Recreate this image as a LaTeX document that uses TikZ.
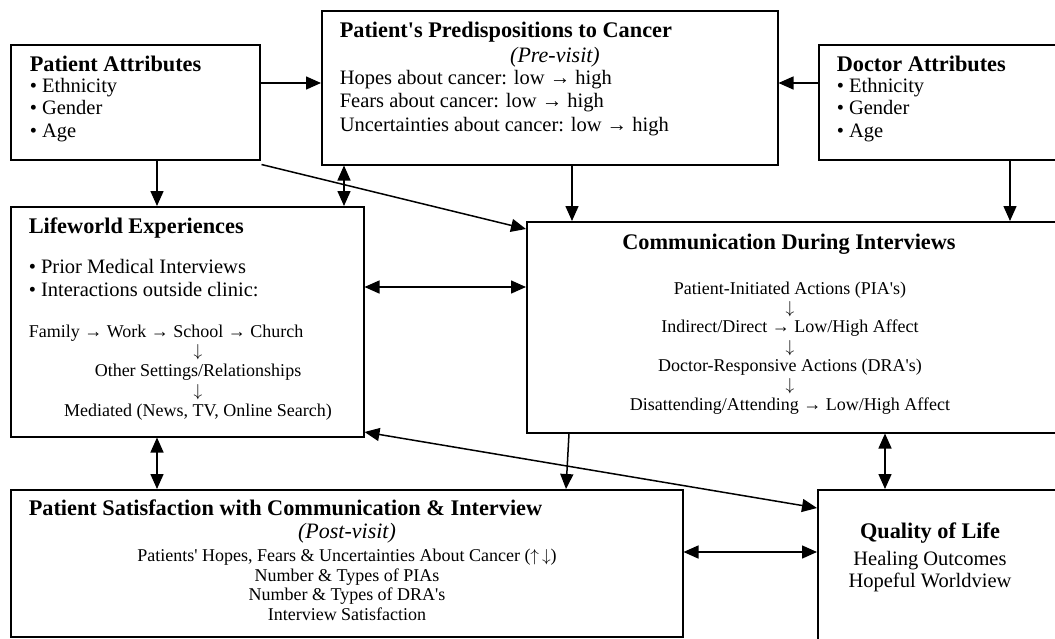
\documentclass[tikz,border=0pt]{standalone}
\usepackage{fontspec}
\setmainfont{Liberation Serif}
\usetikzlibrary{arrows.meta}

\begin{document}
\begin{tikzpicture}[
        x = 1pt, y = -1pt,
        line width = 1.5pt % line style
    ]
    \tikzstyle{box}=[
        draw = black,
        line width = 1.5pt,
        inner sep = 0pt,
        anchor = north west
    ]

    \tikzstyle{boxtitle}=[
        font = \fontsize{22.3}{24}\selectfont\bfseries,
        inner sep = 0pt,
        anchor = base west
    ]

    \tikzstyle{boxtext}=[
        font = \fontsize{20.5}{23}\selectfont,
        inner sep = 0pt,
        align = left,
        anchor = base west
    ]

    \tikzstyle{smalltext}=[
        font = \fontsize{18}{19.4}\selectfont,
        inner sep = 0pt,
        align = center,
        anchor = base
    ]

    \tikzstyle{visit}=[
        font = \fontsize{22}{24}\selectfont\itshape,
        inner sep = 0pt,
        anchor = base
    ]

    \tikzstyle{arr}=[-{Triangle[length=15pt, width=13pt]}, line width = 1.5pt]
    \tikzstyle{dbl}=[{Triangle[length=15pt, width=13pt]}-{Triangle[length=15pt, width=13pt]}, line width = 1.5pt]

    \useasboundingbox (0, 0) rectangle (1055, 638);

    % boxes
    \node[box, minimum width = 249pt, minimum height = 115pt] (pa)     at (10, 44)   {};
    \node[box, minimum width = 456pt, minimum height = 154pt] (pred)   at (321, 10)  {};
    \node[box, minimum width = 260pt, minimum height = 115pt] (doc)    at (818, 44)  {};
    \node[box, minimum width = 353pt, minimum height = 230pt] (lw)     at (10, 206)  {};
    \node[box, minimum width = 560pt, minimum height = 211pt] (comm)   at (526, 221) {};
    \node[box, minimum width = 672pt, minimum height = 147pt] (patsat) at (10, 489)  {};
    \node[box, minimum width = 260pt, minimum height = 170pt] (qol)    at (817, 489) {};

    % texts (multi-line nodes sit on their last baseline)
    \node[boxtitle] (pa-title) at (29, 71) {Patient Attributes};
    \node[boxtext, font = \fontsize{20.5}{22.5}\selectfont] (pa-list) at (29, 137)
        {• Ethnicity\\• Gender\\• Age};

    \node[boxtitle] (pred-title) at (339, 37) {Patient\textquotesingle s Predispositions to Cancer};
    \node[visit] (pred-visit) at (555, 62) {(Pre-visit)};
    \node[boxtext, font = \fontsize{20.5}{23.5}\selectfont] (pred-list) at (339, 131)
        {Hopes about cancer: low → high\\Fears about cancer: low → high\\Uncertainties about cancer: low → high};

    \node[boxtitle] (doc-title) at (836, 71) {Doctor Attributes};
    \node[boxtext, font = \fontsize{20.5}{22.5}\selectfont] (doc-list) at (836, 137)
        {• Ethnicity\\• Gender\\• Age};

    \node[boxtitle] (lw-title) at (28, 233) {Lifeworld Experiences};
    \node[boxtext] (lw-list) at (28, 296)
        {• Prior Medical Interviews\\• Interactions outside clinic:};
    \node[smalltext, anchor = base west] (lw-family) at (28, 337)
        {Family → Work → School → Church};
    \node[smalltext, font = \fontsize{18}{19.7}\selectfont] (lw-other) at (198, 416)
        {$\downarrow$\\Other Settings/Relationships\\$\downarrow$\\Mediated (News, TV, Online Search)};

    \node[boxtitle, anchor = base] (comm-title) at (789, 249) {Communication During Interviews};
    \node[smalltext, font = \fontsize{18}{19.3}\selectfont] (comm-list) at (790, 410)
        {Patient-Initiated Actions (PIA\textquotesingle s)\\$\downarrow$\\Indirect/Direct → Low/High Affect\\$\downarrow$\\%
         Doctor-Responsive Actions (DRA\textquotesingle s)\\$\downarrow$\\Disattending/Attending → Low/High Affect};

    \node[boxtitle] (patsat-title) at (28, 515) {Patient Satisfaction with Communication \& Interview};
    \node[visit] (patsat-visit) at (347, 538) {(Post-visit)};
    \node[smalltext, font = \fontsize{18}{19.5}\selectfont] (patsat-list) at (347, 620)
        {Patients\textquotesingle\ Hopes, Fears \& Uncertainties About Cancer ($\uparrow\,\downarrow$)\\Number \& Types of PIAs\\%
         Number \& Types of DRA\textquotesingle s\\Interview Satisfaction};

    \node[boxtitle, anchor = base] (qol-title) at (930, 538) {Quality of Life};
    \node[boxtext, align = center, anchor = base, font = \fontsize{20.5}{22}\selectfont] (qol-list) at (930, 587)
        {Healing Outcomes\\Hopeful Worldview};

    % connectors
    \path[arr] (pa.east |- 0,83) edge (pred.west |- 0,83);
    \path[arr] (doc.west |- 0,83) edge (pred.east |- 0,83);
    \path[arr] (pa.south -| 157,0) edge (lw.north -| 157,0);
    \path[dbl] (pred.south -| 344,0) edge (lw.north -| 344,0);
    \path[arr] ([shift={(1pt,-4pt)}]pa.south east) edge (comm.west |- 0,229);
    \path[arr] (pred.south -| 572,0) edge (comm.north -| 572,0);
    \path[arr] (doc.south -| 1010,0) edge (comm.north -| 1010,0);
    \path[dbl] (lw.east |- 0,287) edge (comm.west |- 0,287);
    \path[dbl] (lw.south -| 157,0) edge (patsat.north -| 157,0);
    \path[arr] (comm.south -| 569,0) edge (patsat.north -| 566,0);
    \path[dbl] (lw.east |- 0,432) edge (qol.west |- 0,508);
    \path[dbl] (comm.south -| 885,0) edge (qol.north -| 885,0);
    \path[dbl] (patsat.east |- 0,552) edge (qol.west |- 0,552);

\end{tikzpicture}
\end{document}
